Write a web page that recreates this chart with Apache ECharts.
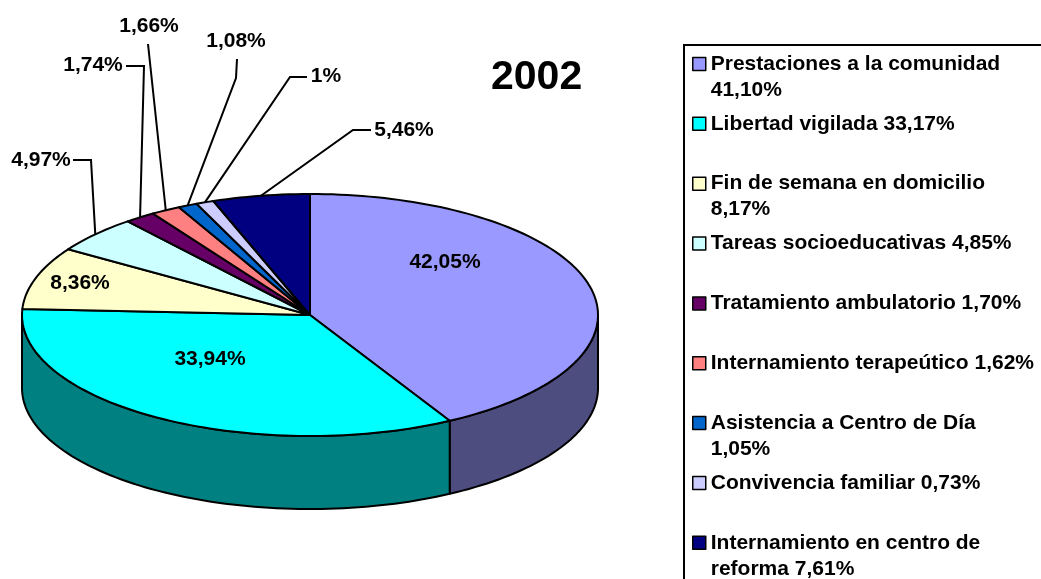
<!DOCTYPE html>
<html>
<head>
<meta charset="utf-8">
<script src="https://cdn.jsdelivr.net/npm/echarts@6/dist/echarts.min.js"></script>
<style>
  html, body { margin: 0; padding: 0; background: #fff; }
  #chart { width: 1041px; height: 579px; }
</style>
</head>
<body>
<div id="chart"></div>
<script>
// categorias (leyenda) y porcentajes
var categories = [
    'Prestaciones a la comunidad',
    'Libertad vigilada',
    'Fin de semana en domicilio',
    'Tareas socioeducativas',
    'Tratamiento ambulatorio',
    'Internamiento terapeútico',
    'Asistencia a Centro de Día',
    'Convivencia familiar',
    'Internamiento en centro de reforma'
];
// valores que se ven sobre la tarta
var sliceValues = [42.05, 33.94, 8.36, 4.97, 1.74, 1.66, 1.08, 1, 5.46];
// valores que se ven en la leyenda
var legendValues = [41.10, 33.17, 8.17, 4.85, 1.70, 1.62, 1.05, 0.73, 7.61];
var yearTitle = '2002';

// colores (paleta Excel)
var palette = ['#9999FF', '#00FFFF', '#FFFFCC', '#CCFFFF', '#660066', '#FF8080', '#0066CC', '#CCCCFF', '#000080'];

// geometria de la tarta 3D
var CX = 310, CY = 315, RX = 288, RY = 121, DEPTH = 73;
var FONT = '"Liberation Sans", Arial, sans-serif';

// posicion de las etiquetas (texto y codo de la guia)
var labelLayout = [
    { at: [445, 262] },
    { at: [210, 359] },
    { at: [80, 283] },
    { at: [41, 160], bend: [[73, 160], [91, 160]] },
    { at: [93, 65], bend: [[126, 66], [144, 66]] },
    { at: [149, 26], bend: [[148, 44]] },
    { at: [236, 41], bend: [[237, 59], [236, 78]] },
    { at: [326, 76], bend: [[307, 77], [290, 77]] },
    { at: [404, 130], bend: [[371, 130], [353, 130]] }
];

var total = sliceValues.reduce(function (a, b) { return a + b; }, 0);
var starts = [];
(function () {
    var acc = 0;
    for (var i = 0; i < sliceValues.length; i++) {
        starts.push(acc / total * 360);
        acc += sliceValues[i];
    }
})();

function pt(deg, dy) {
    var r = deg * Math.PI / 180;
    return [CX + RX * Math.sin(r), CY - RY * Math.cos(r) + (dy || 0)];
}
function arc(a1, a2, dy) {
    var pts = [];
    var n = Math.max(2, Math.ceil((a2 - a1) / 1.5));
    for (var i = 0; i <= n; i++) {
        pts.push(pt(a1 + (a2 - a1) * i / n, dy));
    }
    return pts;
}
function darken(hex) {
    var c = echarts.color.parse(hex);
    return 'rgb(' + Math.round(c[0] * 0.5) + ',' + Math.round(c[1] * 0.5) + ',' + Math.round(c[2] * 0.5) + ')';
}
function fmt(v) { return String(v).replace('.', ',') + '%'; }
function fmt2(v) { return v.toFixed(2).replace('.', ',') + '%'; }

// partir el texto de la leyenda segun el ancho
var ctx = document.createElement('canvas').getContext('2d');
ctx.font = 'bold 21px ' + FONT;
function wrap(str, max) {
    var words = str.split(' ');
    var lines = [];
    var line = '';
    words.forEach(function (w) {
        var t = line ? line + ' ' + w : w;
        if (ctx.measureText(t).width > max && line) {
            lines.push(line);
            line = w;
        } else {
            line = t;
        }
    });
    lines.push(line);
    return lines;
}
// cada entrada ocupa 3 lineas: la primera linea de texto queda en el centro, junto al cuadro
var legendText = {};
categories.forEach(function (name, i) {
    var lines = wrap(name + ' ' + fmt2(legendValues[i]), 326);
    if (lines.length < 2) lines.push(' ');
    legendText[name] = ' \n' + lines.join('\n');
});

function renderSlice(params, api) {
    var i = params.dataIndex;
    var a1 = starts[i];
    var a2 = a1 + api.value(0) / total * 360;
    var color = palette[i];
    var children = [];

    // cara lateral (solo la parte delantera)
    var s1 = Math.max(a1, 90), s2 = Math.min(a2, 270);
    if (s2 > s1) {
        children.push({
            type: 'polygon',
            shape: { points: arc(s1, s2, 0).concat(arc(s1, s2, DEPTH).reverse()) },
            style: { fill: darken(color), stroke: '#000', lineWidth: 2, lineJoin: 'round' }
        });
    }
    // cara superior
    children.push({
        type: 'polygon',
        shape: { points: [[CX, CY]].concat(arc(a1, a2, 0)) },
        style: { fill: color, stroke: '#000', lineWidth: 2, lineJoin: 'round' }
    });

    var lay = labelLayout[i];
    if (lay.bend) {
        var mid = pt((a1 + a2) / 2, 0);
        children.push({
            type: 'polyline',
            z2: 50,
            shape: { points: lay.bend.concat([mid]) },
            style: { stroke: '#000', lineWidth: 2, fill: null }
        });
    }
    children.push({
        type: 'text',
        z2: 60,
        style: {
            text: fmt(api.value(0)),
            x: lay.at[0],
            y: lay.at[1],
            align: 'center',
            verticalAlign: 'middle',
            font: 'bold 21px ' + FONT,
            fill: '#000'
        }
    });
    return { type: 'group', children: children };
}

var myChart = echarts.init(document.getElementById('chart'));
var option = {
    animation: false,
    color: palette,
    backgroundColor: '#fff',
    title: {
        text: yearTitle,
        left: 491,
        top: 57,
        padding: 0,
        textStyle: { fontSize: 41, fontWeight: 'bold', fontFamily: FONT, color: '#000' }
    },
    legend: {
        orient: 'vertical',
        left: 692,
        top: 25,
        height: 700,
        padding: 0,
        itemGap: -18.15,
        itemWidth: 13,
        itemHeight: 13,
        icon: 'rect',
        selectedMode: false,
        itemStyle: { borderColor: '#000', borderWidth: 1.5 },
        data: categories,
        formatter: function (name) { return legendText[name]; },
        textStyle: { fontSize: 21, fontWeight: 'bold', fontFamily: FONT, color: '#000', lineHeight: 26 }
    },
    graphic: [{
        type: 'rect',
        shape: { x: 684, y: 45, width: 500, height: 600 },
        style: { fill: null, stroke: '#000', lineWidth: 2 }
    }],
    series: [{
        // solo para dar los colores a la leyenda
        type: 'pie',
        name: 'leyenda',
        center: [-1000, -1000],
        radius: 5,
        silent: true,
        label: { show: false },
        labelLine: { show: false },
        data: categories.map(function (n, i) { return { name: n, value: legendValues[i] }; })
    }, {
        type: 'custom',
        name: 'tarta',
        coordinateSystem: 'none',
        renderItem: renderSlice,
        data: categories.map(function (n, i) { return { name: n, value: [sliceValues[i]] }; })
    }]
};
myChart.setOption(option);
</script>
</body>
</html>
